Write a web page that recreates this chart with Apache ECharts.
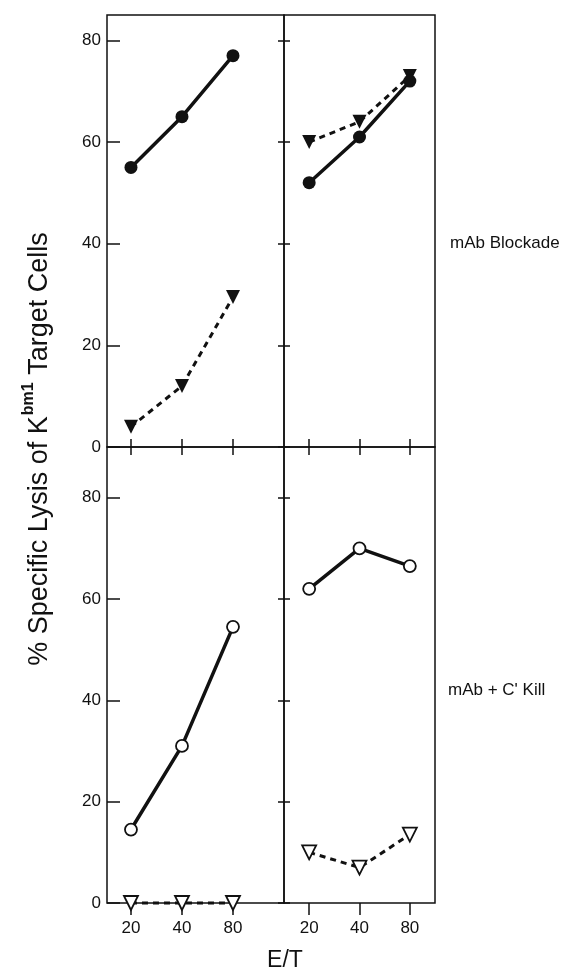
<!DOCTYPE html>
<html>
<head>
<meta charset="utf-8">
<script src="https://cdn.jsdelivr.net/npm/echarts@6/dist/echarts.min.js"></script>
<style>
html,body{margin:0;padding:0;background:#fff;}
#chart{width:578px;height:971px;}
</style>
</head>
<body>
<div id="chart"></div>
<script>
// ---- Data ----
const etRatios = ['20', '40', '80'];
const yTickValues = [0, 20, 40, 60, 80];
// mAb Blockade (top row)
const blockadeLeftSolid  = [55, 65, 77];
const blockadeLeftDashed = [4, 12, 29.5];
const blockadeRightSolid  = [52, 61, 72];
const blockadeRightDashed = [60, 64, 73];
// mAb + C' Kill (bottom row)
const killLeftSolid  = [14.5, 31, 54.5];
const killLeftDashed = [0, 0, 0];
const killRightSolid  = [62, 70, 66.5];
const killRightDashed = [10, 7, 13.5];

const FONT = '"Liberation Sans", Arial, Helvetica, sans-serif';
const toPts = arr => etRatios.map((c, i) => [i, arr[i]]);
const catIdx = etRatios.map((c, i) => i);

const chart = echarts.init(document.getElementById('chart'), null, {renderer: 'canvas'});

const gridStyle = {show: true, borderColor: '#111', borderWidth: 1.5, backgroundColor: 'transparent', containLabel: false};
const grids = [
  Object.assign({left: 107, top: 15, width: 177, height: 432}, gridStyle),
  Object.assign({left: 284, top: 15, width: 151, height: 432}, gridStyle),
  Object.assign({left: 107, top: 447, width: 177, height: 456}, gridStyle),
  Object.assign({left: 284, top: 447, width: 151, height: 456}, gridStyle)
];

function yAxis(grid, max, position, tickLen, showLabels) {
  return {
    type: 'value', gridIndex: grid, min: 0, max: max, interval: 20, position: position,
    axisLine: {show: false, onZero: false},
    splitLine: {show: false},
    axisTick: {show: true, inside: true, length: tickLen, customValues: yTickValues, lineStyle: {color: '#111', width: 1.5}},
    axisLabel: {show: showLabels, customValues: yTickValues, fontSize: 17, color: '#111', fontFamily: FONT, margin: 6}
  };
}
function xAxis(grid, min, max, position, inside, tickLen, showLabels) {
  return {
    type: 'value', gridIndex: grid, min: min, max: max, position: position,
    axisLine: {show: false, onZero: false},
    splitLine: {show: false},
    axisTick: {show: true, inside: inside, length: tickLen, customValues: catIdx, lineStyle: {color: '#111', width: 1.5}},
    axisLabel: {show: showLabels, customValues: catIdx, formatter: v => etRatios[Math.round(v)],
                fontSize: 17, color: '#111', fontFamily: FONT, margin: 17}
  };
}

const L_MIN = -0.47, L_MAX = 3.0, R_MIN = -0.5, R_MAX = 2.5;

const yAxes = [
  yAxis(0, 85, 'left', 13, true),    // 0
  yAxis(0, 85, 'right', 6, false),   // 1
  yAxis(1, 85, 'left', 6, false),    // 2
  yAxis(2, 90, 'left', 13, true),    // 3
  yAxis(2, 90, 'right', 6, false),   // 4
  yAxis(3, 90, 'left', 6, false)     // 5
];

const xAxes = [
  xAxis(0, L_MIN, L_MAX, 'bottom', true, 8, false),  // 0
  xAxis(1, R_MIN, R_MAX, 'bottom', true, 8, false),  // 1
  xAxis(2, L_MIN, L_MAX, 'top', true, 8, false),     // 2
  xAxis(2, L_MIN, L_MAX, 'bottom', false, 12, true), // 3
  xAxis(3, R_MIN, R_MAX, 'top', true, 8, false),     // 4
  xAxis(3, R_MIN, R_MAX, 'bottom', false, 12, true)  // 5
];

function series(data, xi, yi, kind) {
  const dashed = kind.indexOf('tri') === 0;
  const open = kind.indexOf('Open') > 0;
  return {
    type: 'line', xAxisIndex: xi, yAxisIndex: yi, data: toPts(data),
    clip: false, silent: true, z: 5,
    symbol: dashed ? 'triangle' : 'circle',
    symbolSize: dashed ? 14 : (open ? 12 : 13),
    symbolRotate: dashed ? 180 : 0,
    showAllSymbol: true,
    lineStyle: {color: '#111', width: dashed ? 3 : 3.5, type: dashed ? [6, 5] : 'solid'},
    itemStyle: open ? {color: '#fff', borderColor: '#111', borderWidth: 1.8}
                    : {color: '#111', borderColor: '#111', borderWidth: 0}
  };
}

const option = {
  animation: false,
  backgroundColor: '#fff',
  grid: grids,
  xAxis: xAxes,
  yAxis: yAxes,
  series: [
    series(blockadeLeftDashed, 0, 0, 'triFilled'),
    series(blockadeLeftSolid, 0, 0, 'circFilled'),
    series(blockadeRightDashed, 1, 2, 'triFilled'),
    series(blockadeRightSolid, 1, 2, 'circFilled'),
    series(killLeftDashed, 3, 3, 'triOpen'),
    series(killLeftSolid, 3, 3, 'circOpen'),
    series(killRightDashed, 5, 5, 'triOpen'),
    series(killRightSolid, 5, 5, 'circOpen')
  ],
  graphic: [
    {
      type: 'text', x: 37, y: 449, rotation: Math.PI / 2,
      style: {
        text: '{a|% Specific Lysis of K}{s|bm1}{a| Target Cells}',
        align: 'center', verticalAlign: 'middle',
        fill: '#111',
        rich: {
          a: {fontSize: 27, fontFamily: FONT, fill: '#111', lineHeight: 32, verticalAlign: 'bottom'},
          s: {fontSize: 16, fontFamily: FONT, fill: '#111', fontWeight: 'bold', lineHeight: 32, verticalAlign: 'top', padding: [0, 0, 12, 1]}
        }
      }
    },
    {type: 'text', x: 450, y: 243, style: {text: 'mAb Blockade', fontSize: 17, fontFamily: FONT, fill: '#111', align: 'left', verticalAlign: 'middle'}},
    {type: 'text', x: 448, y: 690, style: {text: "mAb + C' Kill", fontSize: 17, fontFamily: FONT, fill: '#111', align: 'left', verticalAlign: 'middle'}},
    {type: 'text', x: 285, y: 961, style: {text: 'E/T', fontSize: 23, fontFamily: FONT, fill: '#111', align: 'center', verticalAlign: 'middle'}}
  ]
};
chart.setOption(option);
</script>
</body>
</html>
